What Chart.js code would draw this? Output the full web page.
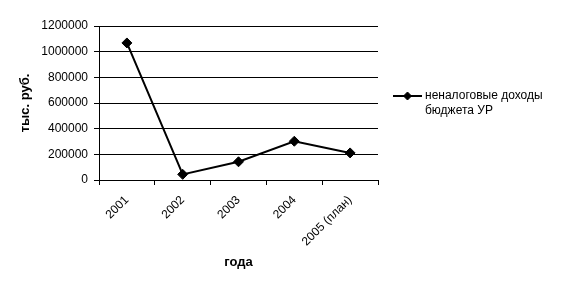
<!DOCTYPE html>
<html><head><meta charset="utf-8">
<script src="https://cdn.jsdelivr.net/npm/chart.js@4/dist/chart.umd.min.js"></script>
<style>html,body{margin:0;padding:0;background:#fff}#wrap{width:563px;height:289px}</style>
</head><body><div id="wrap"><canvas id="c" width="563" height="289"></canvas></div>
<script>
const categories = ['2001','2002','2003','2004','2005 (план)'];
const values = [1068000, 44000, 142000, 302000, 211000];
const yTicks = [0,200000,400000,600000,800000,1000000,1200000];
const seriesName = ['неналоговые доходы','бюджета УР'];
const yTitle = 'тыс. руб.';
const xTitle = 'года';

const FONT = 'Liberation Sans, Arial, sans-serif';

const legendPlugin = {
  id: 'sideLegend',
  afterDraw(chart) {
    const ctx = chart.ctx;
    const ds = chart.data.datasets[0];
    const x0 = 393, y0 = 96;
    ctx.save();
    ctx.strokeStyle = '#000'; ctx.lineWidth = 2;
    ctx.beginPath(); ctx.moveTo(x0, y0); ctx.lineTo(x0 + 29, y0); ctx.stroke();
    ctx.fillStyle = '#000'; ctx.lineWidth = 1;
    Chart.helpers.drawPoint(ctx, {pointStyle:'rectRot', radius:4, borderWidth:1}, x0 + 14.5, y0);
    ctx.font = '12px ' + FONT;
    ctx.textBaseline = 'middle';
    ctx.fillStyle = '#000';
    ds.label.forEach((t,i)=>ctx.fillText(t, x0 + 32, y0 + i*15));
    ctx.restore();
  }
};

new Chart(document.getElementById('c'), {
  type: 'line',
  data: {
    labels: categories,
    datasets: [{
      label: seriesName,
      data: values,
      borderColor: '#000',
      borderWidth: 2,
      backgroundColor: '#000',
      pointStyle: 'rectRot',
      pointRadius: 5,
      pointBorderWidth: 1,
      pointBackgroundColor: '#000',
      pointBorderColor: '#000',
      tension: 0
    }]
  },
  options: {
    responsive: false,
    animation: false,
    devicePixelRatio: 1,
    layout: { padding: { left: 14, right: 185, top: 26, bottom: 15 } },
    plugins: { legend: { display: false }, tooltip: { enabled: false } },
    scales: {
      x: {
        offset: true,
        grid: { offset: true, drawOnChartArea: false, drawTicks: true, tickLength: 5, color: '#000' },
        border: { color: '#000', width: 1 },
        ticks: { color: '#000', font: { family: FONT, size: 12 }, minRotation: 45, maxRotation: 45, padding: 8 },
        title: { display: true, text: xTitle, color: '#000', font: { family: FONT, size: 13, weight: 'bold' }, padding: { top: 4, bottom: 4 } },
        afterFit(s) { s.height = 94; }
      },
      y: {
        min: 0, max: 1200000,
        afterBuildTicks(s) { s.ticks = yTicks.map(v => ({ value: v })); },
        grid: { color: '#000', tickLength: 5 },
        border: { color: '#000', width: 1 },
        ticks: { color: '#000', font: { family: FONT, size: 12 }, padding: 6, callback: v => String(v) },
        title: { display: true, text: yTitle, color: '#000', font: { family: FONT, size: 13, weight: 'bold' }, padding: { top: 4, bottom: 4 } },
        afterFit(s) { s.width = 85; }
      }
    }
  },
  plugins: [legendPlugin]
});
</script></body></html>
